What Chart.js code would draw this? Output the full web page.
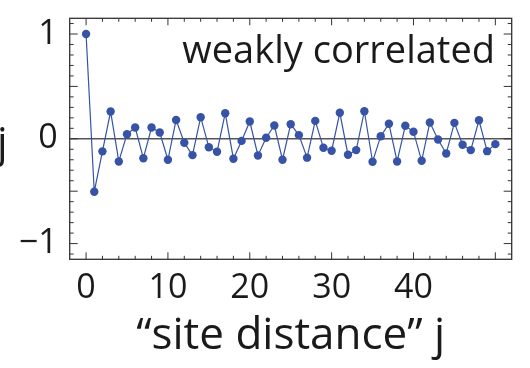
<!DOCTYPE html>
<html>
<head>
<meta charset="utf-8">
<script src="https://cdn.jsdelivr.net/npm/chart.js@4/dist/chart.umd.min.js"></script>
<style>
  html, body { margin: 0; padding: 0; background: #fff; }
  #wrap { width: 530px; height: 368px; }
</style>
</head>
<body>
<div id="wrap"><canvas id="corr"></canvas></div>
<script>
// site distance j and the (weak) correlation
const siteDistance = [0, 1, 2, 3, 4, 5, 6, 7, 8, 9, 10, 11, 12, 13, 14, 15, 16, 17, 18, 19, 20,
  21, 22, 23, 24, 25, 26, 27, 28, 29, 30, 31, 32, 33, 34, 35, 36, 37, 38, 39, 40,
  41, 42, 43, 44, 45, 46, 47, 48, 49, 50];
const correlation = [1.0, -0.505, -0.12, 0.26, -0.216, 0.044, 0.108, -0.185, 0.108, 0.06, -0.2,
  0.18, -0.038, -0.156, 0.206, -0.08, -0.124, 0.244, -0.19, -0.02, 0.165,
  -0.159, 0.01, 0.127, -0.2, 0.139, 0.035, -0.18, 0.171, -0.086, -0.114,
  0.248, -0.152, -0.108, 0.263, -0.219, 0.025, 0.143, -0.216, 0.124, 0.067,
  -0.21, 0.155, -0.007, -0.14, 0.152, -0.057, -0.108, 0.177, -0.118, -0.051];
const xTickValues = [0, 10, 20, 30, 40];
const yTickValues = [-1, 0, 1];
const yTickLabels = ["\u22121", "0", "1"];

const FONT = "'Open Sans', 'DejaVu Sans', sans-serif";
const BLUE = "#3753a6";
const INK = "#1a1a1a";

// frame with inward ticks on all four sides, zero line, and the free text
const framePlugin = {
  id: "frame",
  beforeDatasetsDraw(chart) {
    const { ctx, chartArea: a, scales: { y } } = chart;
    const y0 = y.getPixelForValue(0);
    ctx.save();
    ctx.strokeStyle = "#555";
    ctx.lineWidth = 1.5;
    ctx.beginPath();
    ctx.moveTo(a.left, y0);
    ctx.lineTo(a.right, y0);
    ctx.stroke();
    ctx.restore();
  },
  afterDraw(chart) {
    const { ctx, chartArea: a, scales: { x, y } } = chart;
    ctx.save();
    ctx.strokeStyle = "#333";
    ctx.lineWidth = 1.3;
    ctx.strokeRect(a.left, a.top, a.right - a.left, a.bottom - a.top);

    ctx.lineWidth = 1;
    ctx.beginPath();
    for (let v = -2; v <= 52; v += 2) {
      const px = x.getPixelForValue(v);
      if (px <= a.left + 1 || px >= a.right - 1) continue;
      const len = v % 10 === 0 ? 7 : 3.5;
      ctx.moveTo(px, a.bottom); ctx.lineTo(px, a.bottom - len);
      ctx.moveTo(px, a.top); ctx.lineTo(px, a.top + len);
    }
    for (let i = -11; i <= 11; i++) {
      const py = y.getPixelForValue(i / 10);
      const len = i % 5 === 0 ? 8 : 4;
      ctx.moveTo(a.left, py); ctx.lineTo(a.left + len, py);
      ctx.moveTo(a.right, py); ctx.lineTo(a.right - len, py);
    }
    ctx.stroke();

    ctx.fillStyle = INK;
    ctx.font = "38px " + FONT;
    ctx.textAlign = "right";
    ctx.textBaseline = "alphabetic";
    ctx.fillText("weakly correlated", 495, 63);

    ctx.font = "42px " + FONT;
    ctx.textAlign = "left";
    ctx.fillText("j", -3, 157);
    ctx.restore();
  }
};

new Chart(document.getElementById("corr"), {
  type: "line",
  data: {
    datasets: [{
      data: siteDistance.map((j, i) => ({ x: j, y: correlation[i] })),
      borderColor: BLUE,
      backgroundColor: BLUE,
      borderWidth: 1.2,
      pointRadius: 4.2,
      pointBorderWidth: 0,
      tension: 0
    }]
  },
  options: {
    responsive: true,
    maintainAspectRatio: false,
    animation: false,
    layout: { padding: { left: 0, right: 18.3, top: 18.3, bottom: 0 } },
    plugins: { legend: { display: false }, tooltip: { enabled: false } },
    scales: {
      x: {
        type: "linear",
        min: -2,
        max: 52,
        grid: { display: false, drawTicks: false },
        border: { display: false },
        afterBuildTicks: s => { s.ticks = xTickValues.map(v => ({ value: v })); },
        afterFit: s => { s.height = 108.7; s.paddingLeft = 0; s.paddingRight = 0; },
        ticks: {
          padding: 9,
          color: INK,
          font: { family: FONT, size: 34 },
          maxRotation: 0,
          callback: v => String(v)
        },
        title: {
          display: true,
          text: "\u201csite distance\u201d j",
          color: INK,
          font: { family: FONT, size: 44 },
          padding: { top: 0, bottom: 5 }
        }
      },
      y: {
        min: -1.15,
        max: 1.15,
        grid: { display: false, drawTicks: false },
        border: { display: false },
        afterBuildTicks: s => { s.ticks = yTickValues.map(v => ({ value: v })); },
        afterFit: s => { s.width = 69.7; s.paddingTop = 0; s.paddingBottom = 0; },
        ticks: {
          padding: 12,
          color: INK,
          font: { family: FONT, size: 34 },
          callback: v => yTickLabels[yTickValues.indexOf(v)]
        }
      }
    }
  },
  plugins: [framePlugin]
});
</script>
</body>
</html>
